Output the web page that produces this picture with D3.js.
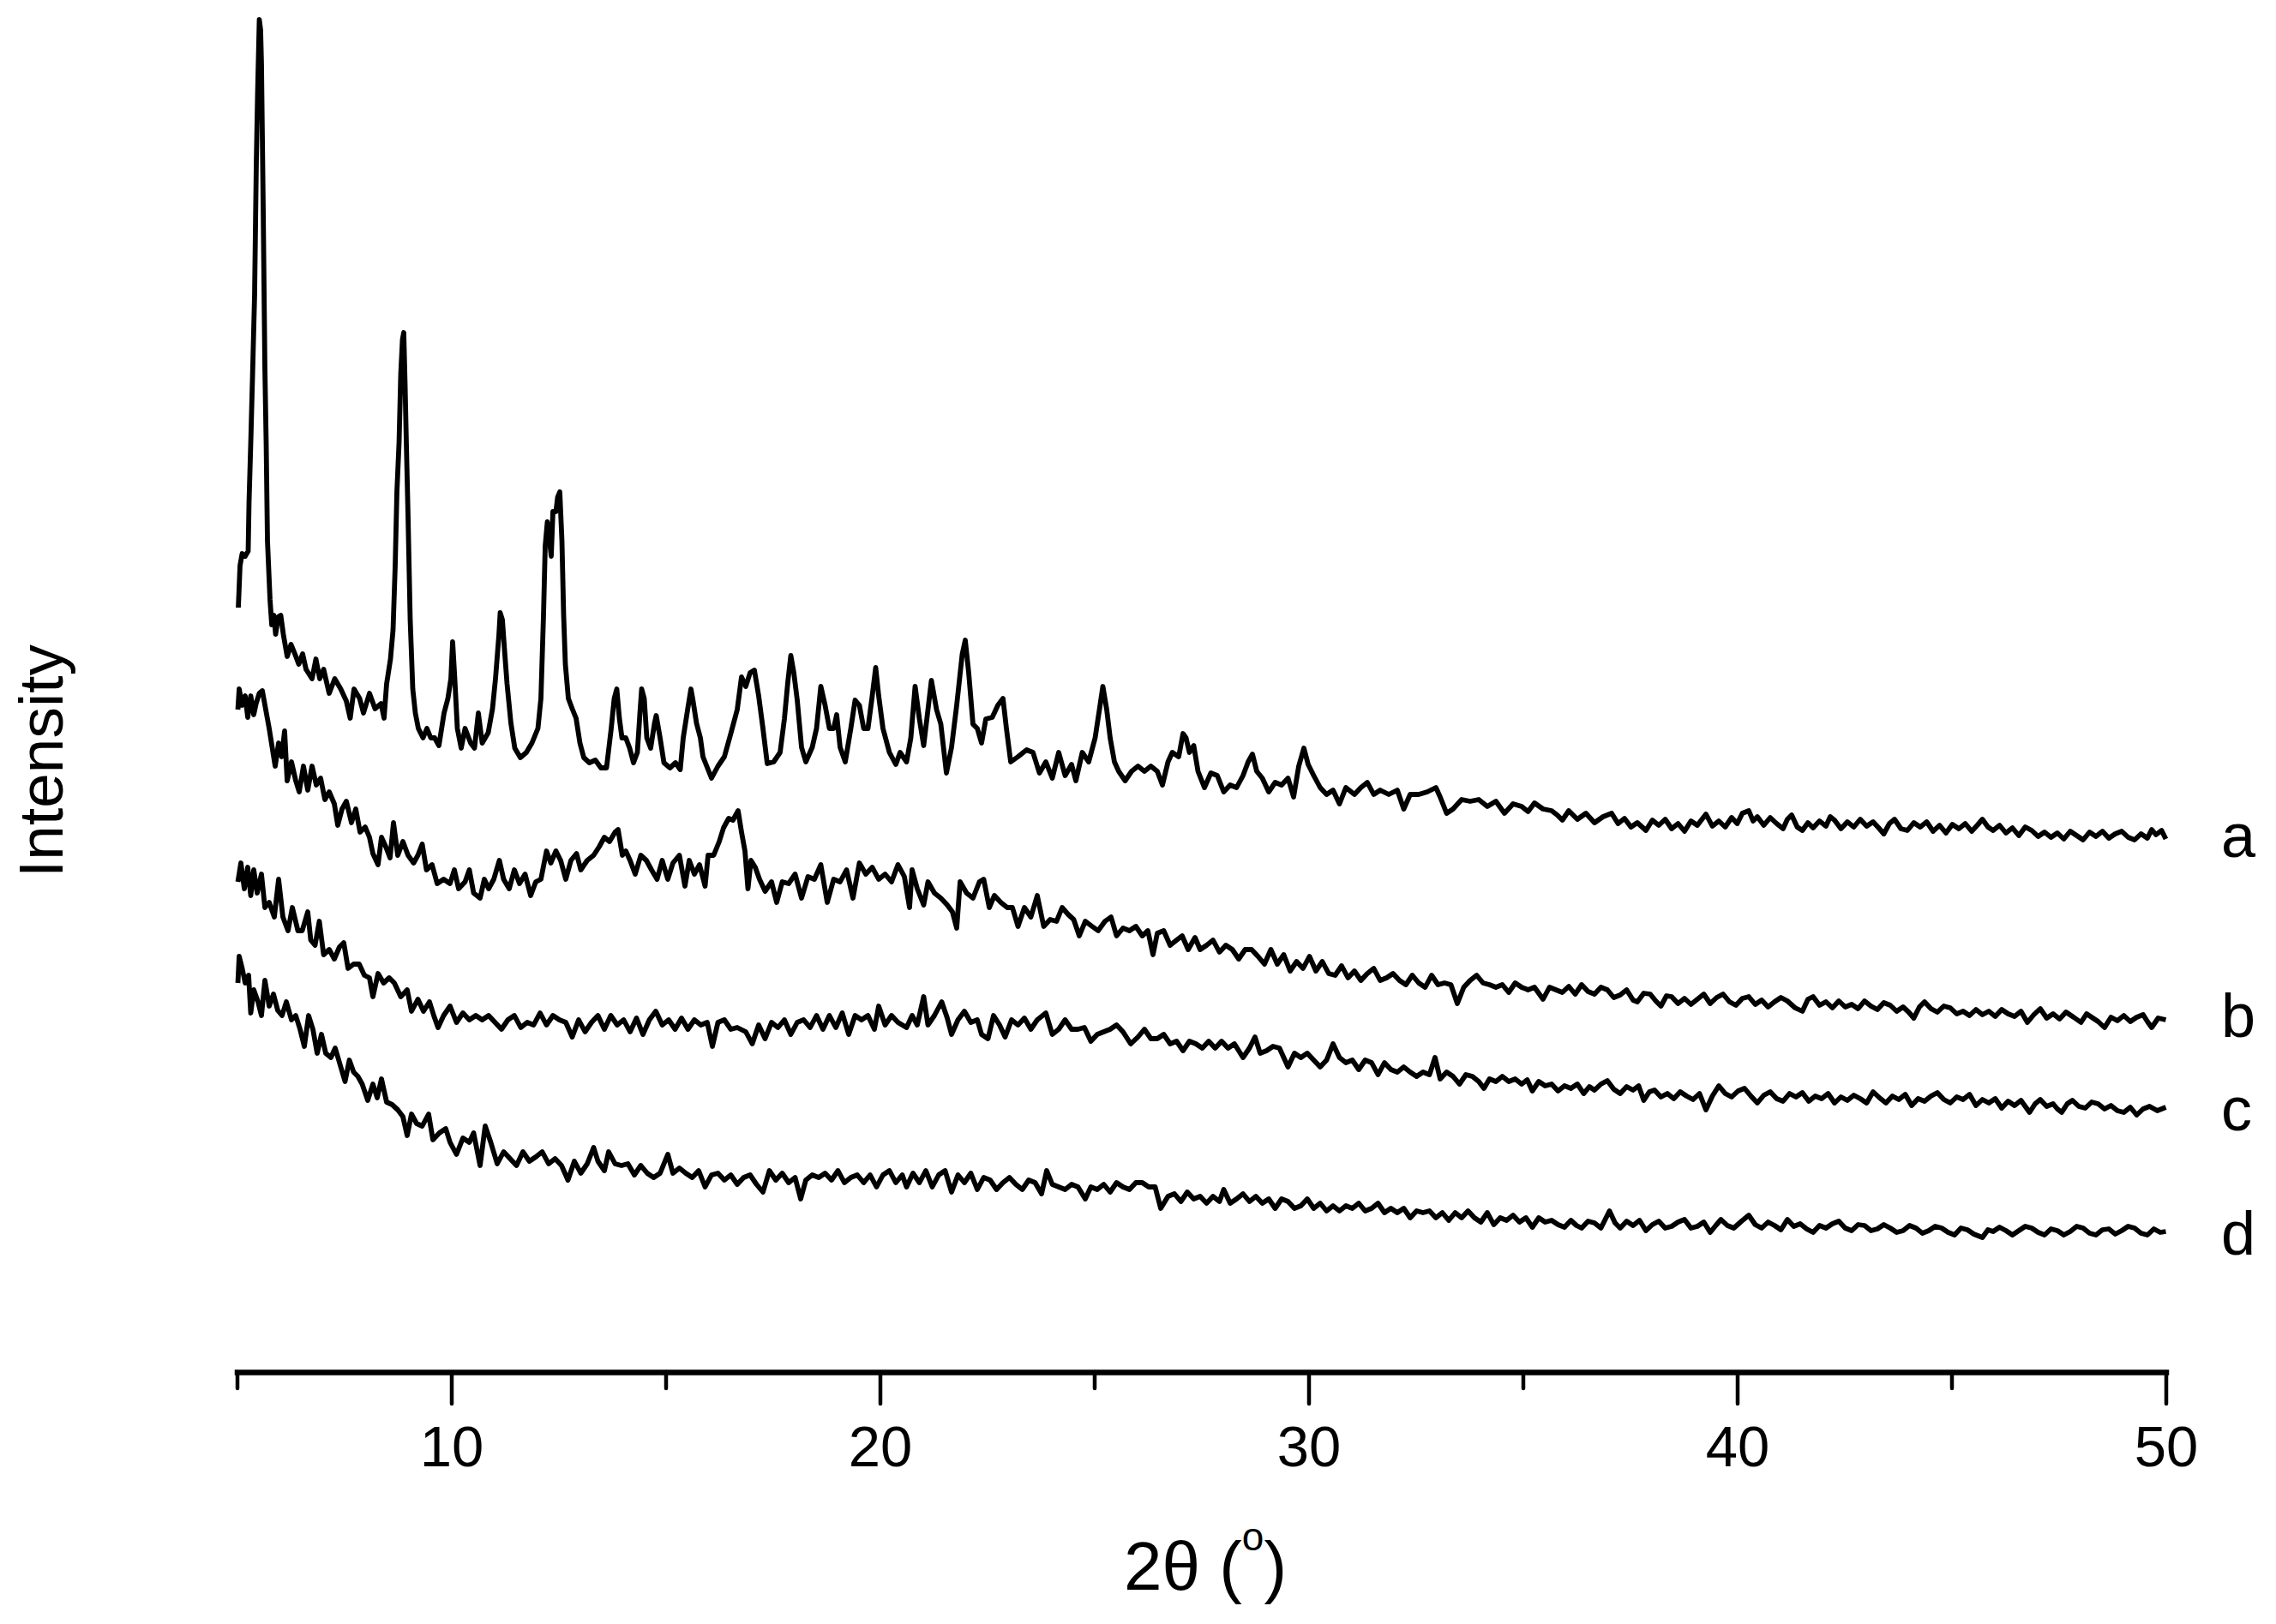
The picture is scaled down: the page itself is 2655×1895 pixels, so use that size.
<!DOCTYPE html>
<html><head><meta charset="utf-8">
<script src="https://cdn.jsdelivr.net/npm/d3@7"></script>
<style>html,body{margin:0;padding:0;background:#fff;}svg{display:block;}</style>
</head><body>
<svg id="chart" width="2655" height="1895"></svg>
<script>
// ---- data (2θ in degrees, intensity in arbitrary units) ----
const seriesLabels = ["a", "b", "c", "d"];
const majorTicks = [10, 20, 30, 40, 50];
const minorTicks = [5, 15, 25, 35, 45];
const xTitle = "2θ (";
const yTitle = "Intensity";

const curveA = [[5.03,892],[5.07,941],[5.12,955],[5.19,952],[5.26,958],[5.28,1015],[5.32,1084],[5.36,1159],[5.41,1257],[5.45,1412],[5.48,1492],[5.52,1578],[5.55,1566],[5.57,1526],[5.61,1360],[5.65,1171],[5.68,1084],[5.71,970],[5.77,901],[5.81,872],[5.86,883],[5.90,861],[5.96,881],[6.02,883],[6.08,861],[6.17,835],[6.26,849],[6.35,838],[6.44,826],[6.53,838],[6.61,820],[6.75,809],[6.84,832],[6.93,809],[7.02,820],[7.15,792],[7.28,809],[7.42,797],[7.55,783],[7.64,763],[7.73,797],[7.86,786],[7.95,769],[8.09,792],[8.22,774],[8.36,780],[8.43,763],[8.49,803],[8.58,832],[8.64,866],[8.69,941],[8.73,1027],[8.78,1084],[8.82,1165],[8.86,1205],[8.89,1213],[8.92,1153],[8.95,1084],[8.99,998],[9.04,878],[9.10,797],[9.16,769],[9.23,751],[9.34,740],[9.43,751],[9.52,740],[9.61,740],[9.71,731],[9.83,769],[9.92,786],[9.99,809],[10.03,852],[10.08,809],[10.14,751],[10.23,728],[10.32,751],[10.45,734],[10.54,728],[10.63,769],[10.72,734],[10.86,746],[10.96,774],[11.03,809],[11.11,860],[11.14,886],[11.19,878],[11.24,843],[11.30,803],[11.39,757],[11.48,728],[11.61,717],[11.75,723],[11.88,734],[12.02,751],[12.09,786],[12.15,883],[12.19,964],[12.24,992],[12.28,975],[12.33,952],[12.37,1004],[12.44,1004],[12.48,1021],[12.53,1027],[12.58,970],[12.62,883],[12.66,826],[12.73,786],[12.82,774],[12.91,763],[13.00,734],[13.09,717],[13.22,711],[13.36,714],[13.49,705],[13.62,705],[13.73,751],[13.80,786],[13.86,797],[13.92,763],[13.98,740],[14.07,740],[14.16,728],[14.25,711],[14.34,723],[14.40,769],[14.44,797],[14.50,786],[14.56,740],[14.65,728],[14.74,757],[14.78,766],[14.87,740],[14.96,711],[15.10,705],[15.23,711],[15.34,703],[15.41,740],[15.50,769],[15.59,797],[15.63,786],[15.72,757],[15.81,740],[15.87,718],[16.07,693],[16.22,707],[16.37,718],[16.52,745],[16.67,773],[16.77,811],[16.87,800],[16.97,816],[17.07,819],[17.17,789],[17.27,751],[17.37,710],[17.52,712],[17.67,723],[17.77,762],[17.85,805],[17.92,836],[17.99,816],[18.07,784],[18.17,729],[18.27,712],[18.42,729],[18.52,751],[18.62,800],[18.72,778],[18.82,751],[18.92,751],[18.99,767],[19.07,729],[19.19,712],[19.32,751],[19.42,784],[19.52,778],[19.62,751],[19.72,751],[19.82,789],[19.90,822],[19.97,789],[20.07,751],[20.22,723],[20.37,709],[20.47,723],[20.62,712],[20.72,740],[20.82,800],[20.92,762],[21.02,731],[21.12,773],[21.20,807],[21.32,773],[21.42,756],[21.55,699],[21.67,729],[21.79,778],[21.92,838],[21.99,854],[22.07,816],[22.17,756],[22.27,751],[22.37,734],[22.47,762],[22.62,764],[22.75,778],[22.87,786],[22.95,751],[23.05,712],[23.22,718],[23.42,726],[23.57,723],[23.72,699],[23.87,712],[24.02,693],[24.17,723],[24.32,696],[24.47,709],[24.57,690],[24.72,723],[24.87,712],[25.02,740],[25.12,773],[25.20,800],[25.29,773],[25.37,740],[25.47,712],[25.57,701],[25.72,690],[25.87,701],[26.02,707],[26.17,701],[26.32,707],[26.47,701],[26.59,685],[26.72,712],[26.82,723],[26.97,718],[27.07,745],[27.14,740],[27.22,723],[27.32,731],[27.42,701],[27.57,682],[27.72,699],[27.87,696],[28.02,677],[28.17,685],[28.32,682],[28.47,696],[28.59,712],[28.69,721],[28.79,701],[28.92,693],[29.07,677],[29.22,688],[29.37,685],[29.52,693],[29.65,671],[29.77,707],[29.89,728],[29.99,709],[30.12,696],[30.27,682],[30.42,674],[30.57,679],[30.72,663],[30.87,682],[31.07,674],[31.22,682],[31.37,688],[31.52,674],[31.67,679],[31.87,674],[32.07,679],[32.22,657],[32.37,674],[32.57,674],[32.77,677],[32.97,682],[33.07,671],[33.22,652],[33.37,657],[33.57,668],[33.77,666],[33.97,668],[34.17,660],[34.37,666],[34.57,652],[34.77,663],[34.97,660],[35.12,654],[35.27,664],[35.47,657],[35.67,655],[35.8,650],[35.92,644],[36.07,655],[36.27,645],[36.47,652],[36.67,641],[36.87,648],[37.07,652],[37.22,640],[37.37,646],[37.52,636],[37.67,641],[37.87,632],[38.02,644],[38.17,638],[38.32,645],[38.47,634],[38.62,640],[38.77,631],[38.92,643],[39.07,638],[39.27,651],[39.42,637],[39.57,643],[39.72,636],[39.87,647],[40.0,640],[40.12,652],[40.27,655],[40.37,643],[40.47,648],[40.62,638],[40.77,647],[40.92,640],[41.07,634],[41.17,645],[41.27,650],[41.4,636],[41.52,632],[41.65,641],[41.77,635],[41.92,643],[42.07,637],[42.17,648],[42.27,644],[42.42,634],[42.57,642],[42.72,636],[42.87,645],[43.02,637],[43.17,642],[43.3,635],[43.42,628],[43.55,640],[43.67,645],[43.82,634],[43.97,632],[44.12,641],[44.27,636],[44.42,642],[44.57,631],[44.72,638],[44.87,629],[45.02,639],[45.17,634],[45.32,640],[45.47,631],[45.6,638],[45.72,645],[45.85,636],[45.97,632],[46.12,638],[46.27,629],[46.42,635],[46.57,626],[46.72,636],[46.87,632],[47.02,625],[47.17,630],[47.32,624],[47.47,629],[47.62,622],[47.77,631],[47.92,626],[48.07,621],[48.22,630],[48.37,625],[48.52,631],[48.67,623],[48.82,628],[48.97,631],[49.12,624],[49.27,621],[49.42,628],[49.57,623],[49.67,633],[49.77,627],[49.9,632],[50.0,622]];

const curveB = [[5.02,773],[5.05,797],[5.12,778],[5.19,789],[5.25,764],[5.32,789],[5.39,767],[5.45,781],[5.52,792],[5.59,795],[5.67,773],[5.75,751],[5.82,729],[5.89,707],[5.97,734],[6.04,718],[6.11,748],[6.17,690],[6.27,712],[6.37,690],[6.45,677],[6.55,707],[6.65,679],[6.75,707],[6.85,685],[6.95,693],[7.05,668],[7.15,677],[7.27,663],[7.35,638],[7.45,657],[7.55,666],[7.67,641],[7.77,657],[7.87,630],[7.99,636],[8.09,624],[8.17,605],[8.29,592],[8.37,624],[8.47,613],[8.57,600],[8.65,641],[8.75,603],[8.87,619],[8.99,603],[9.12,594],[9.22,603],[9.32,616],[9.42,586],[9.55,592],[9.67,570],[9.82,575],[9.97,570],[10.07,586],[10.17,564],[10.32,572],[10.42,586],[10.52,559],[10.67,553],[10.77,575],[10.87,564],[10.99,575],[11.12,597],[11.22,575],[11.35,564],[11.47,586],[11.59,570],[11.72,581],[11.85,556],[11.97,572],[12.09,575],[12.22,608],[12.32,594],[12.44,608],[12.55,597],[12.67,575],[12.79,597],[12.92,605],[13.02,586],[13.17,597],[13.32,603],[13.45,613],[13.57,624],[13.69,619],[13.82,630],[13.89,633],[13.99,603],[14.07,608],[14.17,597],[14.29,581],[14.42,603],[14.55,597],[14.67,586],[14.80,575],[14.92,597],[15.05,575],[15.17,594],[15.32,603],[15.45,567],[15.55,597],[15.67,581],[15.79,592],[15.92,567],[15.99,603],[16.12,603],[16.25,619],[16.35,635],[16.47,646],[16.57,644],[16.69,655],[16.77,630],[16.85,608],[16.92,564],[16.99,597],[17.09,589],[17.19,575],[17.32,561],[17.47,572],[17.59,548],[17.72,572],[17.87,570],[18.02,581],[18.17,553],[18.32,578],[18.47,575],[18.62,592],[18.77,548],[18.92,575],[19.07,572],[19.22,586],[19.37,553],[19.52,594],[19.67,581],[19.82,589],[19.97,575],[20.12,581],[20.27,572],[20.42,592],[20.57,578],[20.69,542],[20.75,586],[20.87,564],[21.02,545],[21.12,572],[21.27,559],[21.42,553],[21.57,545],[21.69,537],[21.79,518],[21.87,572],[22.02,559],[22.17,553],[22.32,572],[22.42,575],[22.55,542],[22.67,556],[22.82,548],[22.97,542],[23.09,542],[23.22,520],[23.37,542],[23.52,531],[23.67,556],[23.82,520],[23.97,528],[24.12,526],[24.25,542],[24.39,534],[24.52,528],[24.65,509],[24.79,526],[24.95,520],[25.09,515],[25.25,526],[25.39,531],[25.52,509],[25.67,518],[25.82,515],[25.97,520],[26.12,509],[26.25,515],[26.37,487],[26.47,512],[26.62,515],[26.77,498],[26.92,504],[27.05,509],[27.19,493],[27.35,507],[27.47,493],[27.62,498],[27.77,504],[27.92,490],[28.07,498],[28.22,493],[28.37,482],[28.52,493],[28.67,493],[28.82,485],[28.97,476],[29.12,493],[29.27,476],[29.42,487],[29.57,468],[29.72,479],[29.87,471],[30.02,485],[30.17,468],[30.32,479],[30.47,465],[30.62,463],[30.77,474],[30.92,460],[31.07,468],[31.22,457],[31.37,465],[31.52,471],[31.67,457],[31.82,460],[31.97,465],[32.12,457],[32.27,452],[32.42,463],[32.57,454],[32.72,449],[32.87,463],[33.02,452],[33.17,454],[33.32,452],[33.47,430],[33.62,449],[33.77,457],[33.92,463],[34.07,454],[34.22,452],[34.37,449],[34.52,452],[34.67,443],[34.82,454],[34.97,449],[35.12,446],[35.27,449],[35.47,435],[35.62,449],[35.77,446],[35.92,443],[36.07,450],[36.22,441],[36.37,452],[36.52,444],[36.67,441],[36.82,449],[36.97,446],[37.12,437],[37.27,440],[37.42,446],[37.57,434],[37.67,432],[37.82,442],[37.97,441],[38.1,433],[38.22,427],[38.35,439],[38.47,438],[38.62,430],[38.77,436],[38.92,429],[39.07,435],[39.22,441],[39.37,430],[39.52,437],[39.67,441],[39.82,432],[39.97,428],[40.12,436],[40.27,438],[40.42,429],[40.57,434],[40.72,426],[40.87,432],[41.02,437],[41.17,433],[41.35,425],[41.52,421],[41.65,435],[41.77,438],[41.92,428],[42.07,432],[42.22,425],[42.37,433],[42.52,426],[42.67,429],[42.82,424],[42.97,433],[43.12,427],[43.27,423],[43.42,431],[43.57,428],[43.72,421],[43.87,426],[44.0,420],[44.12,413],[44.25,426],[44.37,432],[44.52,424],[44.67,420],[44.82,427],[44.97,425],[45.12,418],[45.27,421],[45.42,416],[45.57,423],[45.72,417],[45.87,421],[46.02,415],[46.17,423],[46.32,418],[46.47,415],[46.62,421],[46.77,408],[46.92,417],[47.07,424],[47.22,413],[47.37,418],[47.52,412],[47.67,420],[47.85,414],[48.02,408],[48.15,418],[48.27,414],[48.42,409],[48.57,402],[48.72,414],[48.87,410],[49.02,416],[49.17,409],[49.32,414],[49.47,417],[49.57,409],[49.67,402],[49.82,413],[50.0,411]];

const curveC = [[5.02,572],[5.09,594],[5.17,564],[5.25,589],[5.32,556],[5.39,586],[5.47,559],[5.57,581],[5.65,542],[5.75,548],[5.87,531],[5.97,575],[6.07,531],[6.19,515],[6.29,542],[6.42,515],[6.52,515],[6.65,537],[6.72,504],[6.82,498],[6.92,526],[7.02,487],[7.15,493],[7.27,482],[7.39,496],[7.49,501],[7.59,471],[7.72,476],[7.85,476],[7.97,463],[8.09,460],[8.17,438],[8.29,465],[8.42,454],[8.55,460],[8.67,454],[8.82,438],[8.97,446],[9.07,421],[9.22,435],[9.35,421],[9.49,432],[9.59,416],[9.69,402],[9.82,416],[9.97,427],[10.12,408],[10.27,419],[10.42,411],[10.57,416],[10.72,411],[10.87,416],[11.02,408],[11.17,400],[11.32,411],[11.47,416],[11.62,402],[11.77,408],[11.92,405],[12.07,419],[12.22,405],[12.37,416],[12.52,411],[12.67,408],[12.82,391],[12.97,411],[13.12,397],[13.27,408],[13.42,416],[13.57,400],[13.72,416],[13.87,405],[14.02,411],[14.17,397],[14.32,413],[14.47,394],[14.62,411],[14.77,421],[14.92,405],[15.07,411],[15.22,400],[15.37,413],[15.52,400],[15.67,411],[15.82,405],[15.97,408],[16.09,380],[16.22,408],[16.37,411],[16.52,400],[16.67,402],[16.87,397],[17.02,383],[17.17,405],[17.32,389],[17.47,408],[17.62,402],[17.77,411],[17.92,394],[18.07,408],[18.22,411],[18.37,402],[18.52,416],[18.67,400],[18.82,416],[18.97,402],[19.12,419],[19.27,394],[19.42,416],[19.57,411],[19.72,416],[19.87,400],[19.97,427],[20.12,405],[20.27,416],[20.42,408],[20.62,402],[20.75,416],[20.87,405],[21.02,438],[21.12,405],[21.27,416],[21.44,432],[21.57,413],[21.67,394],[21.82,411],[21.97,421],[22.12,408],[22.27,411],[22.37,394],[22.52,389],[22.65,416],[22.79,405],[22.92,391],[23.07,411],[23.22,405],[23.37,413],[23.52,400],[23.67,411],[23.87,419],[24.02,394],[24.17,400],[24.32,411],[24.47,400],[24.62,400],[24.77,402],[24.92,386],[25.07,394],[25.22,397],[25.37,400],[25.52,405],[25.67,397],[25.85,383],[26.02,391],[26.17,400],[26.32,389],[26.47,389],[26.62,394],[26.77,383],[26.92,386],[27.07,375],[27.22,386],[27.37,383],[27.52,378],[27.67,386],[27.82,378],[27.97,386],[28.12,378],[28.27,383],[28.47,367],[28.62,378],[28.75,391],[28.87,372],[29.02,375],[29.17,380],[29.32,378],[29.52,356],[29.67,372],[29.82,367],[29.97,372],[30.12,364],[30.27,356],[30.42,364],[30.57,383],[30.72,367],[30.87,361],[31.02,364],[31.17,353],[31.32,364],[31.47,361],[31.62,347],[31.77,361],[31.92,353],[32.07,350],[32.22,356],[32.37,350],[32.52,345],[32.67,350],[32.82,347],[32.95,367],[33.07,342],[33.22,350],[33.37,345],[33.52,336],[33.67,347],[33.82,345],[33.97,339],[34.09,331],[34.22,342],[34.37,339],[34.52,345],[34.67,339],[34.82,342],[34.97,336],[35.1,341],[35.22,328],[35.37,339],[35.52,334],[35.67,336],[35.82,328],[35.97,334],[36.12,331],[36.27,336],[36.42,325],[36.55,333],[36.67,329],[36.82,336],[36.97,340],[37.12,330],[37.27,325],[37.42,333],[37.57,329],[37.7,334],[37.82,317],[37.95,327],[38.07,329],[38.22,321],[38.37,325],[38.52,319],[38.67,327],[38.82,322],[38.97,318],[39.12,325],[39.27,306],[39.42,322],[39.57,334],[39.72,325],[39.87,321],[40.02,328],[40.17,331],[40.32,322],[40.47,314],[40.62,323],[40.77,327],[40.92,319],[41.07,316],[41.22,325],[41.37,321],[41.52,326],[41.67,316],[41.82,322],[41.97,319],[42.12,325],[42.27,314],[42.42,321],[42.57,317],[42.72,323],[42.87,319],[43.02,314],[43.17,327],[43.32,320],[43.47,314],[43.62,322],[43.77,318],[43.92,324],[44.07,311],[44.22,319],[44.37,316],[44.52,322],[44.67,326],[44.82,318],[44.97,314],[45.12,321],[45.27,318],[45.42,324],[45.57,311],[45.72,318],[45.87,314],[46.02,319],[46.17,308],[46.32,316],[46.47,311],[46.62,317],[46.82,303],[46.95,313],[47.07,318],[47.22,310],[47.37,313],[47.47,307],[47.57,303],[47.7,313],[47.82,317],[47.97,310],[48.12,308],[48.27,315],[48.42,313],[48.57,307],[48.72,311],[48.87,305],[49.02,303],[49.17,309],[49.32,300],[49.47,307],[49.62,310],[49.8,305],[50.0,309]];

const curveD = [[5.02,454],[5.05,485],[5.12,471],[5.19,454],[5.27,463],[5.32,419],[5.39,446],[5.49,432],[5.57,416],[5.65,457],[5.75,427],[5.85,441],[5.95,422],[6.05,416],[6.15,432],[6.27,411],[6.37,416],[6.47,400],[6.57,380],[6.67,416],[6.77,400],[6.87,372],[6.97,394],[7.07,372],[7.19,367],[7.29,378],[7.42,356],[7.52,339],[7.62,364],[7.72,350],[7.82,345],[7.92,336],[8.05,317],[8.17,336],[8.27,320],[8.37,342],[8.49,315],[8.62,312],[8.75,306],[8.87,298],[8.97,276],[9.07,301],[9.19,290],[9.32,287],[9.47,301],[9.57,271],[9.72,279],[9.87,284],[9.97,268],[10.12,254],[10.27,273],[10.42,268],[10.52,279],[10.67,241],[10.79,287],[10.92,268],[11.07,243],[11.22,257],[11.37,249],[11.52,241],[11.67,257],[11.82,246],[11.97,251],[12.12,257],[12.27,243],[12.42,249],[12.57,241],[12.72,224],[12.87,246],[13.02,232],[13.17,243],[13.32,262],[13.42,246],[13.57,235],[13.67,257],[13.82,243],[13.97,241],[14.12,243],[14.27,230],[14.42,241],[14.57,232],[14.72,227],[14.87,232],[15.05,254],[15.17,232],[15.32,238],[15.47,232],[15.62,227],[15.77,235],[15.92,216],[16.07,230],[16.22,232],[16.37,224],[16.52,230],[16.67,219],[16.82,227],[16.97,230],[17.12,219],[17.27,210],[17.42,235],[17.57,224],[17.72,232],[17.87,221],[18.02,227],[18.15,202],[18.27,224],[18.42,230],[18.57,227],[18.72,232],[18.87,224],[19.02,235],[19.17,221],[19.32,227],[19.47,230],[19.62,221],[19.77,230],[19.92,216],[20.07,230],[20.22,235],[20.37,221],[20.52,230],[20.62,216],[20.77,232],[20.92,221],[21.07,235],[21.22,216],[21.37,230],[21.52,235],[21.67,210],[21.82,230],[21.97,221],[22.12,232],[22.27,213],[22.42,227],[22.57,224],[22.72,213],[22.87,221],[23.02,227],[23.17,219],[23.32,213],[23.47,224],[23.62,221],[23.77,208],[23.89,235],[24.02,219],[24.17,216],[24.32,213],[24.47,219],[24.62,216],[24.79,202],[24.92,216],[25.07,213],[25.22,219],[25.37,210],[25.52,221],[25.67,216],[25.82,213],[25.97,221],[26.12,221],[26.27,216],[26.42,216],[26.55,191],[26.72,205],[26.87,208],[27.02,199],[27.17,210],[27.32,202],[27.47,205],[27.62,197],[27.77,205],[27.92,199],[28.02,213],[28.17,197],[28.32,202],[28.47,208],[28.62,199],[28.77,205],[28.92,197],[29.07,202],[29.22,191],[29.37,202],[29.52,199],[29.67,191],[29.82,194],[29.97,202],[30.12,191],[30.27,197],[30.42,188],[30.57,194],[30.72,188],[30.87,194],[31.02,191],[31.17,197],[31.32,188],[31.47,191],[31.62,197],[31.77,186],[31.92,191],[32.07,186],[32.22,191],[32.37,180],[32.52,188],[32.67,186],[32.82,188],[32.97,180],[33.12,186],[33.27,177],[33.42,186],[33.57,180],[33.72,188],[33.87,180],[34.02,175],[34.17,186],[34.32,172],[34.47,180],[34.62,177],[34.77,183],[34.92,175],[35.07,180],[35.22,169],[35.37,180],[35.52,175],[35.67,177],[35.82,172],[35.97,169],[36.12,177],[36.25,171],[36.37,168],[36.52,176],[36.67,174],[36.82,168],[37.02,188],[37.15,174],[37.27,168],[37.42,176],[37.57,171],[37.72,177],[37.87,165],[38.02,172],[38.17,176],[38.32,168],[38.47,170],[38.62,175],[38.77,178],[38.92,168],[39.07,170],[39.22,175],[39.37,163],[39.5,171],[39.62,178],[39.77,171],[39.92,168],[40.1,176],[40.27,183],[40.42,172],[40.57,168],[40.72,175],[40.87,171],[41.02,166],[41.17,178],[41.32,170],[41.47,173],[41.62,167],[41.77,163],[41.92,171],[42.07,168],[42.22,173],[42.37,176],[42.52,168],[42.67,165],[42.82,172],[42.97,171],[43.12,165],[43.27,167],[43.42,172],[43.57,168],[43.72,163],[43.87,165],[44.02,171],[44.17,168],[44.32,162],[44.47,165],[44.62,170],[44.77,168],[44.92,163],[45.07,160],[45.22,168],[45.37,166],[45.52,161],[45.72,157],[45.85,166],[45.97,164],[46.12,169],[46.27,165],[46.42,160],[46.57,165],[46.72,170],[46.87,168],[47.02,163],[47.17,160],[47.32,167],[47.47,165],[47.62,160],[47.77,164],[47.92,170],[48.07,168],[48.22,162],[48.37,160],[48.52,166],[48.67,167],[48.82,161],[48.97,165],[49.12,170],[49.27,168],[49.42,162],[49.57,160],[49.72,167],[49.87,163],[50.0,164]];

const allCurves = [curveA, curveB, curveC, curveD];

// ---- drawing ----
const FONT = "'Liberation Sans', Arial, Helvetica, sans-serif";
const svg = d3.select("#chart");
svg.append("rect").attr("width", 2655).attr("height", 1895).attr("fill", "#fff");

const x = d3.scaleLinear().domain([5, 50]).range([276.5, 2526.5]);
const y = d3.scaleLinear().domain([0, 1601]).range([1601, 0]);

const line = d3.line().x(d => x(d[0])).y(d => y(d[1]));

svg.append("g").selectAll("path.curve")
  .data(allCurves)
  .join("path")
  .attr("class", "curve")
  .attr("d", line)
  .attr("fill", "none")
  .attr("stroke", "#000")
  .attr("stroke-width", 5.8)
  .attr("stroke-linejoin", "round");

// curve labels
svg.append("g").selectAll("text")
  .data(allCurves)
  .join("text")
  .attr("x", 2591)
  .attr("y", (d, i) => y(d[d.length - 1][1]) + [21, 20, 27, 27][i])
  .attr("font-family", FONT)
  .attr("font-size", 72)
  .text((d, i) => seriesLabels[i]);

// x axis: major ticks with labels
const axisY = 1601;
const gMajor = svg.append("g").attr("transform", `translate(0,${axisY})`)
  .call(d3.axisBottom(x).tickValues(majorTicks).tickSize(37).tickSizeOuter(0).tickFormat(d3.format("d")));
gMajor.select(".domain").attr("stroke-width", 6.5).attr("stroke-linecap", "square").attr("stroke", "#000");
gMajor.selectAll(".tick line").attr("stroke-width", 4.5).attr("stroke-linecap", "round").attr("stroke", "#000");
gMajor.selectAll(".tick text")
  .attr("y", 110).attr("dy", 0)
  .attr("font-family", FONT).attr("font-size", 67).attr("fill", "#000");

// minor ticks
const gMinor = svg.append("g").attr("transform", `translate(0,${axisY})`)
  .call(d3.axisBottom(x).tickValues(minorTicks).tickSize(19).tickSizeOuter(0).tickFormat(""));
gMinor.select(".domain").remove();
gMinor.selectAll(".tick line").attr("stroke-width", 4.5).attr("stroke-linecap", "round").attr("stroke", "#000");

// x title
const xt = svg.append("text")
  .attr("x", 1311).attr("y", 1855)
  .attr("font-family", FONT).attr("font-size", 80).attr("fill", "#000");
xt.append("tspan").text(xTitle);
xt.append("tspan").attr("font-size", 46).attr("dy", -46).text("o");
xt.append("tspan").attr("dy", 46).text(")");

// y title
svg.append("text")
  .attr("transform", "translate(73,888) rotate(-90)")
  .attr("text-anchor", "middle")
  .attr("font-family", FONT).attr("font-size", 73).attr("fill", "#000")
  .text(yTitle);
</script>
</body></html>
